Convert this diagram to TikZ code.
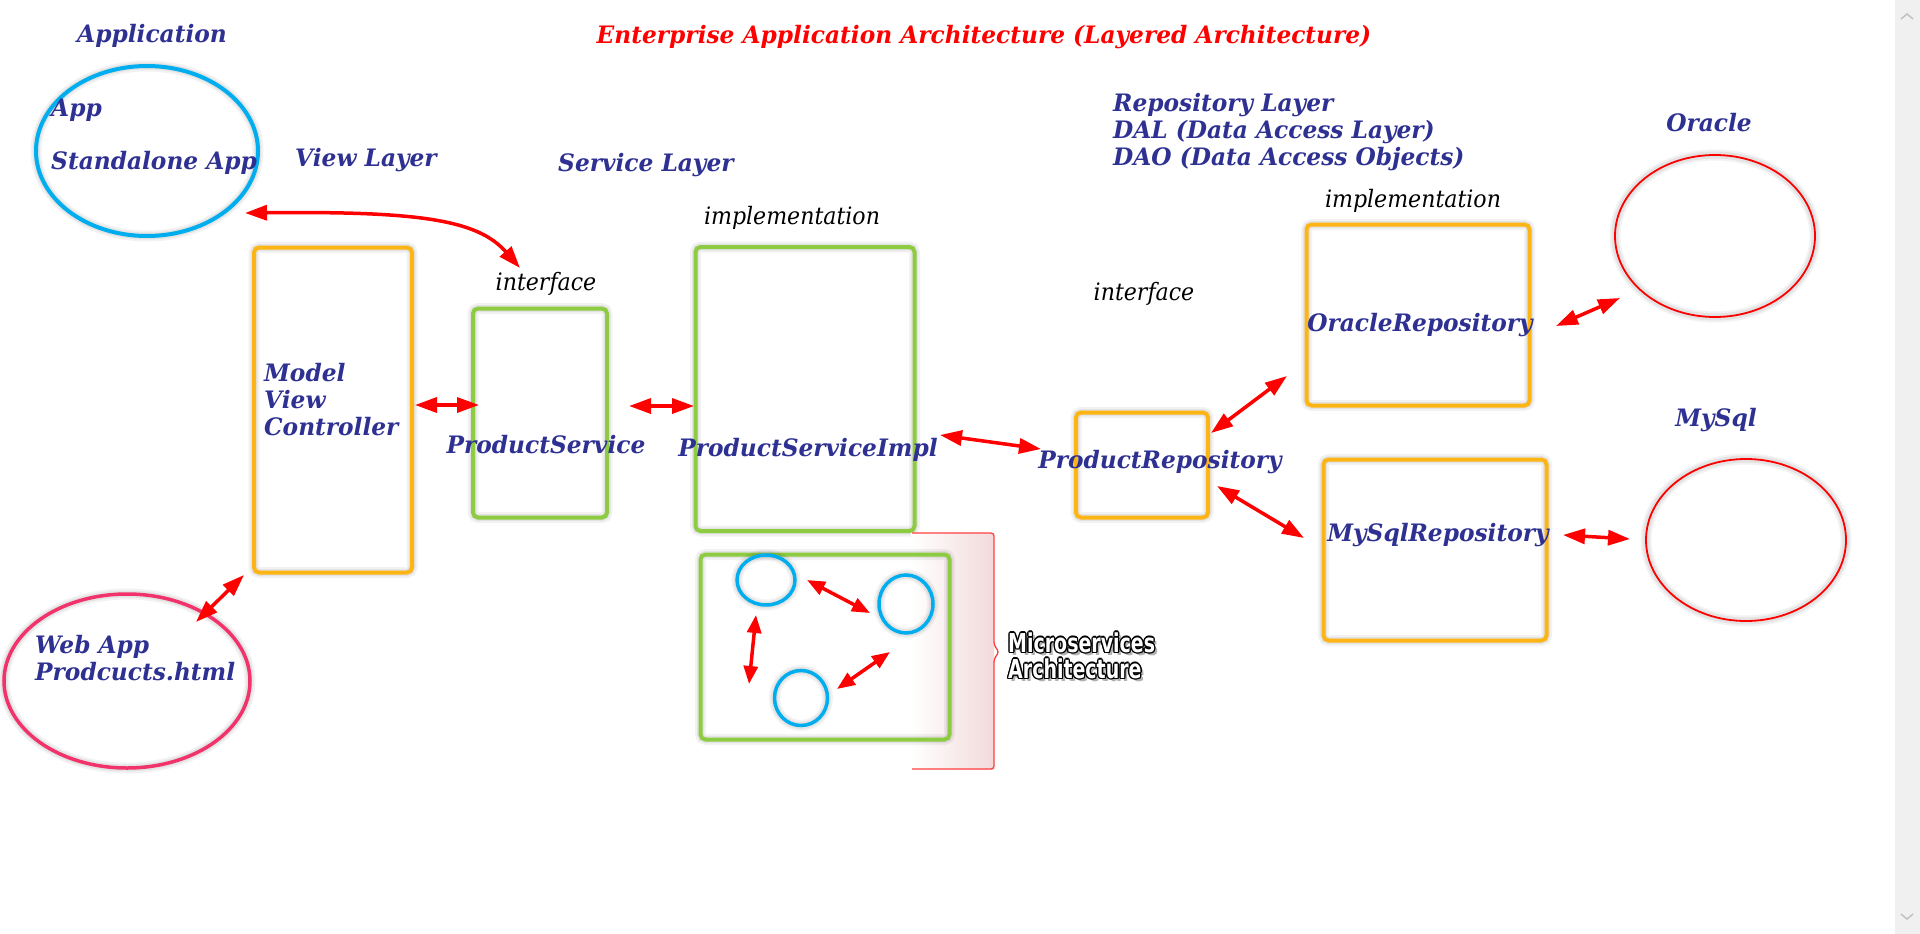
\documentclass[tikz,border=0pt]{standalone}
\usepackage{fontspec}
\setmainfont{DejaVu Serif}[FakeStretch=0.97]
\newfontfamily\itfont{DejaVu Serif}[FakeStretch=0.92]
\newfontfamily\impactfont{DejaVu Sans}[FakeStretch=0.73]
\usetikzlibrary{arrows.meta,shapes.geometric}
\definecolor{txtblue}{HTML}{2E3192}
\definecolor{boxorange}{HTML}{FDB515}
\definecolor{boxgreen}{HTML}{8DCB41}
\definecolor{cyanc}{HTML}{00AEEF}
\definecolor{pinkc}{HTML}{F2336B}
\definecolor{redc}{HTML}{FF0000}
\definecolor{bracepink}{HTML}{F3DADB}
\definecolor{sbgray}{HTML}{F0F0F0}
\definecolor{chevgray}{HTML}{C2C2C2}
\newcommand{\outlinedtext}[1]{%
  \rlap{\textcolor{black!30}{\hspace{3pt}\raisebox{-3pt}{#1}}}%
  \rlap{\textcolor{black}{\hspace{1.4pt}#1}}%
  \rlap{\textcolor{black}{\hspace{-1.4pt}#1}}%
  \rlap{\textcolor{black}{\raisebox{1.4pt}{#1}}}%
  \rlap{\textcolor{black}{\raisebox{-1.4pt}{#1}}}%
  \rlap{\textcolor{black}{\hspace{1pt}\raisebox{1pt}{#1}}}%
  \rlap{\textcolor{black}{\hspace{-1pt}\raisebox{1pt}{#1}}}%
  \rlap{\textcolor{black}{\hspace{1pt}\raisebox{-1pt}{#1}}}%
  \rlap{\textcolor{black}{\hspace{-1pt}\raisebox{-1pt}{#1}}}%
  \textcolor{white}{#1}}
\begin{document}
\begin{tikzpicture}[x=1pt,y=-1pt,
  lbl/.style={font=\fontsize{24}{28}\selectfont\bfseries\itshape, text=txtblue, inner sep=0pt},
  plainlbl/.style={font=\itfont\fontsize{24}{28}\selectfont\itshape, text=black, inner sep=0pt},
  titlelbl/.style={font=\fontsize{24}{28}\selectfont\bfseries\itshape, text=redc, inner sep=0pt},
  mstext/.style={font=\impactfont\bfseries\fontsize{26}{26}\selectfont, inner sep=0pt, anchor=base west},
  glow/.style={preaction={draw=black,draw opacity=0.05,line width=11pt},preaction={draw=black,draw opacity=0.06,line width=7pt}},
  obox/.style={draw=boxorange, line width=4pt, rounded corners=5pt, glow, inner sep=0pt, minimum width=#1},
  gbox/.style={draw=boxgreen, line width=4pt, rounded corners=5pt, glow, inner sep=0pt, minimum width=#1},
  ell/.style={ellipse, inner sep=0pt, glow},
  biarrow/.style={draw=redc, line width=3.5pt, {Triangle[length=22pt,width=15pt]}-{Triangle[length=22pt,width=15pt]}},
  smarrow/.style={draw=redc, line width=3.5pt, {Triangle[length=18pt,width=14pt]}-{Triangle[length=18pt,width=14pt]}},
]
\useasboundingbox (0,0) rectangle (1920,934);
\fill[white] (0,0) rectangle (1920,934);
% scrollbar
\fill[sbgray] (1895,0) rectangle (1920,934);
\draw[chevgray, line width=1.5pt] (1901,19) -- (1907,14) -- (1913,19);
\draw[chevgray, line width=1.5pt] (1901,914) -- (1907,919) -- (1913,914);

% title
\node[titlelbl] (title) at (984,37) {Enterprise Application Architecture (Layered Architecture)};

% application side
\node[lbl, anchor=west] (applbl) at (77,36) {Application};
\node[ell, draw=cyanc, line width=4pt, minimum width=222pt, minimum height=170pt] (appell) at (147,151) {};
\node[lbl, anchor=west] (applabel) at (51,110) {App};
\node[lbl, anchor=west] (salabel) at (51,163) {Standalone App};

\node[ell, draw=pinkc, line width=3.5pt, minimum width=246pt, minimum height=174pt] (webell) at (127,681) {};
\node[lbl, anchor=west] (weblabel) at (35,647) {Web App};
\node[lbl, anchor=west] (htmllabel) at (35,672) {Prodcucts.html};

% layer headings
\node[lbl, anchor=west] (viewl) at (295,160) {View Layer};
\node[lbl, anchor=west] (servl) at (558,165) {Service Layer};
\node[lbl, anchor=north west, align=left, font=\fontsize{24}{27}\selectfont\bfseries\itshape] (repol) at (1113,93) {Repository Layer\\DAL (Data Access Layer)\\DAO (Data Access Objects)};

% MVC box
\node[obox=158pt, minimum height=325pt] (mvc) at (333,410) {};
\node[lbl, anchor=west] (mdl) at (264,373) {Model};
\node[lbl, anchor=west] (vw) at (264,400) {View};
\node[lbl, anchor=west] (ctl) at (264,427) {Controller};

% service layer
\node[plainlbl] (ifc1) at (546,284) {interface};
\node[gbox=134pt, minimum height=209pt] (ps) at (540,413) {};
\node[lbl] (pslbl) at (546,445) {ProductService};

\node[plainlbl] (impl1) at (792,218) {implementation};
\node[gbox=219pt, minimum height=284pt] (psi) at (805,389) {};
\node[lbl] (psilbl) at (808,450) {ProductServiceImpl};

% microservices bracket
\shade[left color=white, right color=bracepink] (911,533) rectangle (994,769);
\draw[redc!75, line width=1.3pt, rounded corners=3pt] (912,533) -- (994,533) -- (994,645) -- (999,652) -- (994,659) -- (994,769) -- (912,769);
\node[gbox=249pt, minimum height=185pt] (ms) at (825,647) {};
\node[ell, draw=cyanc, line width=3.5pt, minimum width=58pt, minimum height=50pt] (c1) at (766,580) {};
\node[ell, draw=cyanc, line width=3.5pt, minimum width=54pt, minimum height=58pt] (c2) at (906,604) {};
\node[ell, draw=cyanc, line width=3.5pt, minimum width=53pt, minimum height=55pt] (c3) at (801,698) {};
\node[mstext] (mslbl1) at (1008,652) {\outlinedtext{Microservices}};
\node[mstext] (mslbl2) at (1008,678) {\outlinedtext{Architecture}};

% repository layer
\node[plainlbl] (ifc2) at (1144,294) {interface};
\node[obox=132pt, minimum height=105pt] (pr) at (1142,465) {};
\node[lbl] (prlbl) at (1160,462) {ProductRepository};

\node[plainlbl] (impl2) at (1413,201) {implementation};
\node[obox=223pt, minimum height=181pt] (orr) at (1418,315) {};
\node[lbl] (orlbl) at (1420,325) {OracleRepository};
\node[obox=223pt, minimum height=181pt] (myr) at (1435,550) {};
\node[lbl] (myrlbl) at (1438,535) {MySqlRepository};

% databases
\node[lbl] (oralbl) at (1709,123) {Oracle};
\node[ell, draw=redc, line width=1.8pt, minimum width=200pt, minimum height=162pt] (oradb) at (1715,236) {};
\node[lbl] (mylbl) at (1716,420) {MySql};
\node[ell, draw=redc, line width=1.8pt, minimum width=200pt, minimum height=162pt] (mydb) at (1746,540) {};

% arrow end points
\coordinate (a0s) at (245,213); \coordinate (a0e) at (520,268);
\coordinate (a1s) at (415,405); \coordinate (a1e) at (479,405);
\coordinate (a2s) at (629,406); \coordinate (a2e) at (694,406);
\coordinate (a3s) at (940,435); \coordinate (a3e) at (1041,449);
\coordinate (a4s) at (1211,433); \coordinate (a4e) at (1287,376);
\coordinate (a5s) at (1217,486); \coordinate (a5e) at (1304,538);
\coordinate (a6s) at (1556,326); \coordinate (a6e) at (1620,298);
\coordinate (a7s) at (1563,535); \coordinate (a7e) at (1630,539);
\coordinate (a8s) at (196,622); \coordinate (a8e) at (244,575);
\coordinate (m1s) at (807,580); \coordinate (m1e) at (870,613);
\coordinate (m2s) at (756,615); \coordinate (m2e) at (749,684);
\coordinate (m3s) at (837,689); \coordinate (m3e) at (890,652);

\draw[biarrow] (a0s) .. controls (420,211) and (478,220) .. (a0e);
\draw[biarrow] (a1s) -- (a1e);
\draw[biarrow] (a2s) -- (a2e);
\draw[biarrow] (a3s) -- (a3e);
\draw[biarrow] (a4s) -- (a4e);
\draw[biarrow] (a5s) -- (a5e);
\draw[biarrow] (a6s) -- (a6e);
\draw[biarrow] (a7s) -- (a7e);
\draw[biarrow] (a8s) -- (a8e);
\draw[smarrow] (m1s) -- (m1e);
\draw[smarrow] (m2s) -- (m2e);
\draw[smarrow] (m3s) -- (m3e);
\end{tikzpicture}
\end{document}
